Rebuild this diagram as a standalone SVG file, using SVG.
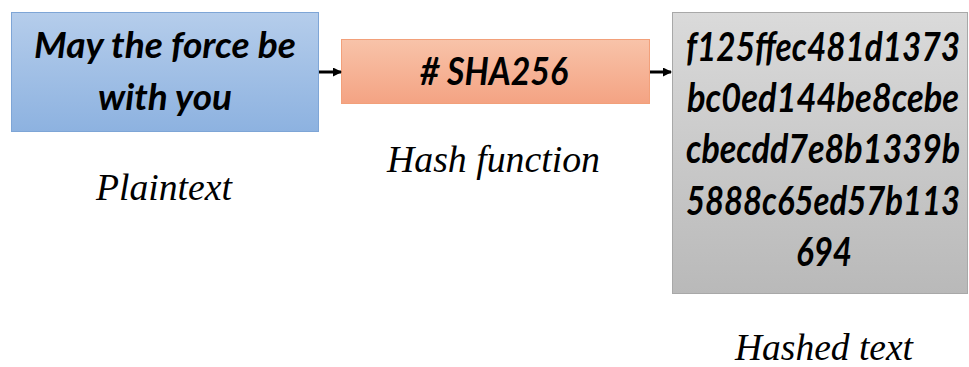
<svg xmlns="http://www.w3.org/2000/svg" width="969" height="367" viewBox="0 0 969 367">
<defs>
<linearGradient id="gBlue" x1="0" y1="0" x2="0" y2="1"><stop offset="0" stop-color="#b5cdeb"/><stop offset="1" stop-color="#8db2e0"/></linearGradient>
<linearGradient id="gOrange" x1="0" y1="0" x2="0" y2="1"><stop offset="0" stop-color="#f8c3a9"/><stop offset="1" stop-color="#f4a383"/></linearGradient>
<linearGradient id="gGray" x1="0" y1="0" x2="0" y2="1"><stop offset="0" stop-color="#dadada"/><stop offset="1" stop-color="#b9b9b9"/></linearGradient>
<marker id="ah" markerWidth="9" markerHeight="9" refX="8" refY="4.5" orient="auto" markerUnits="userSpaceOnUse"><path d="M0,0 L9,4.5 L0,9 Z" fill="#000"/></marker>
<style>
.bt{font-family:Lato,"Open Sans",sans-serif;font-weight:bold;font-style:italic;fill:#000;text-anchor:middle}
.lb{font-family:"Liberation Serif","Times New Roman",serif;font-style:italic;fill:#000}
.cn{stroke:#000;stroke-width:3;fill:none}
</style>
</defs>
<rect width="969" height="367" fill="#fff"/>
<g id="plaintext">
<rect x="11.5" y="12.5" width="307" height="119" fill="url(#gBlue)" stroke="#7ea5d6" stroke-width="1"/>
<text class="bt" x="165" y="58" font-size="36" textLength="262" lengthAdjust="spacingAndGlyphs">May the force be</text>
<text class="bt" x="165" y="110" font-size="36" textLength="134" lengthAdjust="spacingAndGlyphs">with you</text>
<text class="lb" x="96" y="200" font-size="38" textLength="136" lengthAdjust="spacingAndGlyphs">Plaintext</text>
</g>
<g id="hashfunction">
<rect x="341.5" y="39.5" width="308" height="64" fill="url(#gOrange)" stroke="#f2a07a" stroke-width="1"/>
<text class="bt" x="494" y="85" font-size="39" textLength="148" lengthAdjust="spacingAndGlyphs"># SHA256</text>
<text class="lb" x="387" y="172" font-size="38" textLength="213" lengthAdjust="spacingAndGlyphs">Hash function</text>
</g>
<g id="hashedtext">
<rect x="672.5" y="12.5" width="295" height="281" fill="url(#gGray)" stroke="#a8a8a8" stroke-width="1"/>
<text class="bt" x="823" y="61" font-size="41" textLength="274" lengthAdjust="spacingAndGlyphs">f125ffec481d1373</text>
<text class="bt" x="823" y="112" font-size="41" textLength="272" lengthAdjust="spacingAndGlyphs">bc0ed144be8cebe</text>
<text class="bt" x="823" y="163" font-size="41" textLength="274" lengthAdjust="spacingAndGlyphs">cbecdd7e8b1339b</text>
<text class="bt" x="823" y="215" font-size="41" textLength="274" lengthAdjust="spacingAndGlyphs">5888c65ed57b113</text>
<text class="bt" x="824" y="266" font-size="41" textLength="56" lengthAdjust="spacingAndGlyphs">694</text>
<text class="lb" x="735" y="360" font-size="38" textLength="178" lengthAdjust="spacingAndGlyphs">Hashed text</text>
</g>
<g id="connectors">
<line class="cn" x1="319" y1="72" x2="341" y2="72" marker-end="url(#ah)"/>
<line class="cn" x1="650" y1="72" x2="671" y2="72" marker-end="url(#ah)"/>
</g>
</svg>
